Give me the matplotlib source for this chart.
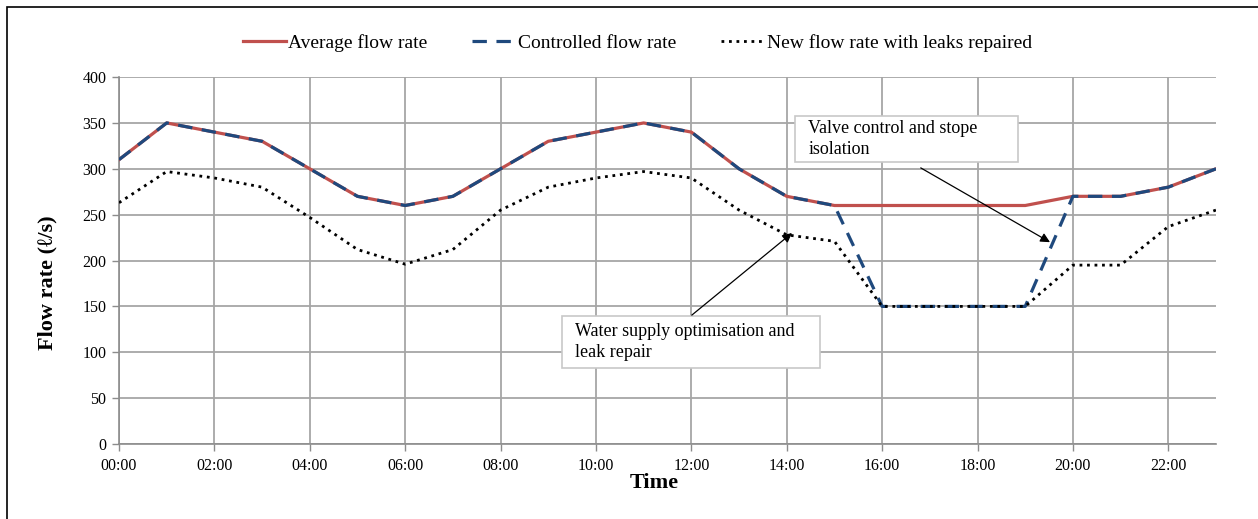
import matplotlib
matplotlib.use('Agg')
import matplotlib.pyplot as plt
from matplotlib.patches import Rectangle

plt.rcParams['font.family'] = ['Liberation Serif', 'DejaVu Serif']

# hourly flow rates over one day (l/s)
hours = [0, 1, 2, 3, 4, 5, 6, 7, 8, 9, 10, 11, 12, 13, 14, 15, 16, 17, 18, 19, 20, 21, 22, 23]
average_flow = [310, 350, 340, 330, 300, 270, 260, 270, 300, 330, 340, 350,
                340, 300, 270, 260, 260, 260, 260, 260, 270, 270, 280, 300]
controlled_flow = [310, 350, 340, 330, 300, 270, 260, 270, 300, 330, 340, 350,
                   340, 300, 270, 260, 150, 150, 150, 150, 270, 270, 280, 300]
repaired_flow = [263, 297, 290, 280, 247, 212, 196, 212, 255, 280, 290, 297,
                 290, 255, 228, 221, 150, 150, 150, 150, 195, 195, 237, 255]

tick_hours = [0, 2, 4, 6, 8, 10, 12, 14, 16, 18, 20, 22]
tick_labels = ['%02d:00' % h for h in tick_hours]

fig = plt.figure(figsize=(12.58, 5.19), dpi=100)
ax = fig.add_axes([0.0946, 0.1445, 0.872, 0.707])

ax.plot(hours, average_flow, color='#C0504D', linewidth=2.3, label='Average flow rate', zorder=3)
ax.plot(hours, controlled_flow, color='#1F497D', linewidth=2.3, linestyle=(0, (4.5, 3)),
        label='Controlled flow rate', zorder=4)
ax.plot(hours, repaired_flow, color='black', linewidth=2.0, linestyle=(0, (1, 1.7)),
        label='New flow rate with leaks repaired', zorder=5)

ax.set_xlim(0, 23)
ax.set_ylim(0, 400)
ax.set_xticks(tick_hours)
ax.set_xticklabels(tick_labels)
ax.set_yticks(range(0, 401, 50))
ax.tick_params(axis='both', labelsize=11.5, length=5, width=1, color='#8c8c8c')
ax.tick_params(axis='x', pad=5)
ax.tick_params(axis='y', pad=4)

ax.grid(True, color='#a6a6a6', linewidth=1.3)
ax.set_axisbelow(True)
for side in ['top', 'right']:
    ax.spines[side].set_visible(False)
for side in ['left', 'bottom']:
    ax.spines[side].set_color('#8c8c8c')
    ax.spines[side].set_linewidth(1.2)

ax.set_xlabel('Time', fontsize=16, fontweight='bold')
ax.set_ylabel('Flow rate (ℓ/s)', fontsize=16, fontweight='bold')
ax.xaxis.set_label_coords(0.488, -0.080)
ax.yaxis.set_label_coords(-0.0565, 0.44)

ax.legend(loc='center', bbox_to_anchor=(0.4725, 1.0925), ncol=3, frameon=False,
          fontsize=14, handlelength=2.2, handletextpad=0.15, columnspacing=2.3)

# annotation boxes with arrows
arrow = dict(arrowstyle='-|>', color='black', linewidth=0.9, mutation_scale=14, shrinkA=0, shrinkB=0)


def note_box(x0, x1, y0, y1, tx, ty, text):
    ax.add_patch(Rectangle((x0, y0), x1 - x0, y1 - y0, facecolor='white',
                           edgecolor='#c8c8c8', linewidth=1.2, zorder=6))
    ax.text(tx, ty, text, fontsize=13, va='center', ha='left', zorder=7, linespacing=1.3)


note_box(14.17, 18.85, 307.4, 357.5, 14.45, 332.4, 'Valve control and stope\nisolation')
ax.annotate('', xy=(19.52, 220), xytext=(16.81, 301), arrowprops=arrow, zorder=8)

note_box(9.29, 14.70, 82.8, 139.5, 9.56, 111.2, 'Water supply optimisation and\nleak repair')
ax.annotate('', xy=(14.11, 230), xytext=(12.01, 140.5), arrowprops=arrow, zorder=8)

# outer frame around the figure
fig.patches.append(Rectangle((7 / 1258, -0.1), 1.2, 1.1 - 7.5 / 519, transform=fig.transFigure,
                             fill=False, edgecolor='black', linewidth=1.2))

fig.savefig('out.png', dpi=100)
